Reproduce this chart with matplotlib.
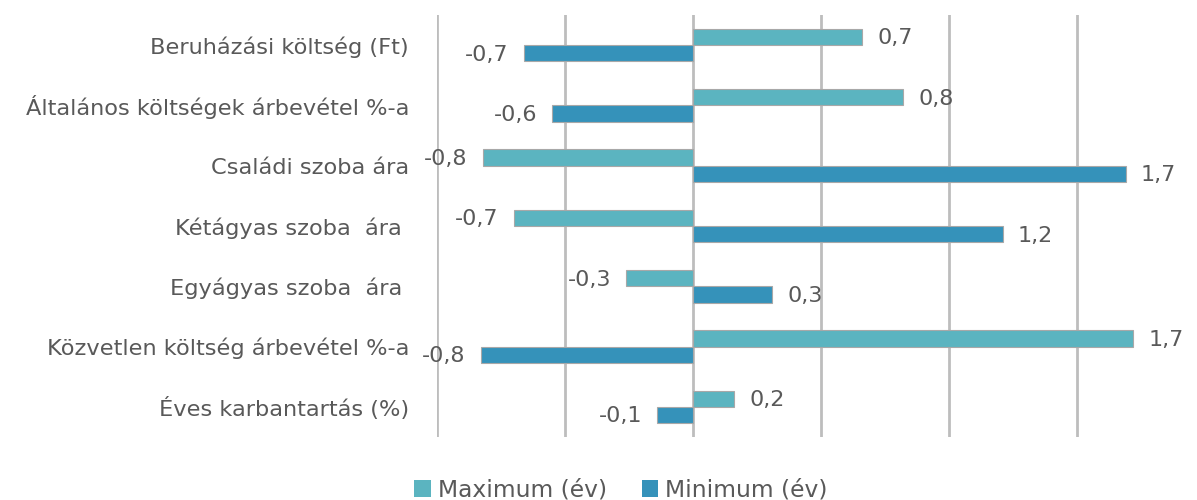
import matplotlib
matplotlib.use("Agg")
import matplotlib.pyplot as plt
from matplotlib.patches import Patch

categories = [
    "Beruházási költség (Ft)",
    "Általános költségek árbevétel %-a",
    "Családi szoba ára",
    "Kétágyas szoba  ára ",
    "Egyágyas szoba  ára ",
    "Közvetlen költség árbevétel %-a",
    "Éves karbantartás (%)",
]
maximum = [0.66, 0.82, -0.82, -0.70, -0.26, 1.72, 0.16]
minimum = [-0.66, -0.55, 1.69, 1.21, 0.31, -0.83, -0.14]
maximum_labels = ["0,7", "0,8", "-0,8", "-0,7", "-0,3", "1,7", "0,2"]
minimum_labels = ["-0,7", "-0,6", "1,7", "1,2", "0,3", "-0,8", "-0,1"]
series_names = ["Maximum (év)", "Minimum (év)"]

c_max = "#5bb4c0"
c_min = "#3592ba"
txt = "#595959"
FONT = "DejaVu Sans"

W, H = 1197, 500
fig = plt.figure(figsize=(W / 100, H / 100), dpi=100)
ax = fig.add_axes([437 / W, 63 / H, 760 / W, 422 / H])

n = len(categories)
pos = list(range(n))
bh = 0.27
ax.barh([p - bh / 2 for p in pos], maximum, height=bh, color=c_max,
        edgecolor="#a8a8a8", linewidth=0.8, zorder=3)
ax.barh([p + bh / 2 for p in pos], minimum, height=bh, color=c_min,
        edgecolor="#a8a8a8", linewidth=0.8, zorder=3)

ax.set_xlim(-1.0, -1.0 + 760 / 256)
ax.set_ylim(n - 0.5, -0.5)
ax.set_xticks([-1.0, -0.5, 0.0, 0.5, 1.0, 1.5])
ax.grid(axis="x", color="#bdbdbd", linewidth=2.0, zorder=0)
ax.tick_params(axis="x", length=0, labelbottom=False)
ax.tick_params(axis="y", length=0, pad=20)
for s in ax.spines.values():
    s.set_visible(False)
ax.set_yticks(pos)
ax.set_yticklabels(categories, fontsize=16.2, color=txt, family=FONT)

def put(vals, labels, off):
    for p, v, l in zip(pos, vals, labels):
        dx = 11 if v >= 0 else -11
        ax.annotate(l, (v, p + off), xytext=(dx, -1), textcoords="offset points",
                    ha="left" if v >= 0 else "right", va="center",
                    fontsize=16, color=txt, family=FONT, zorder=4)

put(maximum, maximum_labels, -bh / 2)
put(minimum, minimum_labels, bh / 2)

handles = [Patch(facecolor=c_max, edgecolor="none"), Patch(facecolor=c_min, edgecolor="none")]
leg = fig.legend(handles, series_names, loc="center", bbox_to_anchor=(621 / W, 1 - 490 / H),
                 ncol=2, frameon=False, prop={"family": FONT, "size": 16.8},
                 handlelength=0.7, handleheight=0.7, handletextpad=0.3, columnspacing=1.5)
for t in leg.get_texts():
    t.set_color(txt)

fig.savefig("out.png", dpi=100, facecolor="white")
